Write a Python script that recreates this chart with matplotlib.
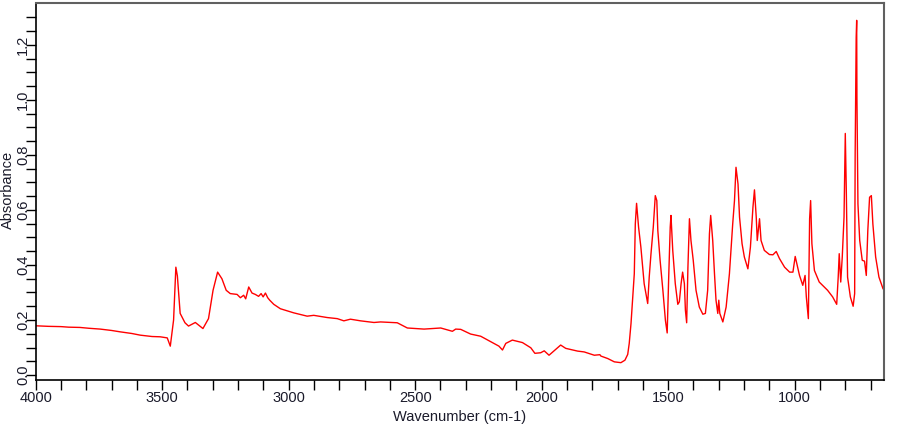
import matplotlib
matplotlib.use("Agg")
import matplotlib.pyplot as plt
import numpy as np

plt.rcParams['font.family'] = ['Liberation Sans', 'DejaVu Sans']

wavenumber = [4000, 3950, 3900, 3870, 3825, 3790, 3745, 3700, 3666, 3620, 3587, 3540, 3508, 3480,
              3468, 3455, 3446, 3440, 3429, 3410, 3396, 3369, 3339, 3317, 3299, 3281, 3264, 3247,
              3231, 3204, 3191, 3178, 3170, 3158, 3145, 3132, 3119, 3109, 3101, 3092, 3083, 3075,
              3059, 3033, 2980, 2927, 2901, 2848, 2808, 2782, 2756, 2716, 2663, 2637, 2571, 2531,
              2465, 2399, 2353, 2340, 2320, 2281, 2241, 2201, 2169, 2155, 2142, 2116, 2076, 2043,
              2027, 2004, 1990, 1971, 1951, 1925, 1905, 1858, 1832, 1792, 1770, 1766, 1739, 1713,
              1687, 1671, 1660, 1654, 1647, 1640, 1634, 1630, 1625, 1617, 1608, 1595, 1581, 1575,
              1568, 1559, 1551, 1545, 1541, 1532, 1521, 1511, 1504, 1498, 1492, 1489, 1482, 1472,
              1462, 1456, 1449, 1443, 1436, 1432, 1427, 1422, 1416, 1410, 1401, 1390, 1377, 1363,
              1353, 1344, 1337, 1332, 1324, 1317, 1311, 1304, 1300, 1296, 1284, 1271, 1258, 1245,
              1238, 1232, 1224, 1218, 1208, 1199, 1185, 1175, 1165, 1159, 1152, 1148, 1139, 1133,
              1120, 1100, 1086, 1073, 1060, 1040, 1020, 1007, 998, 990, 981, 968, 959, 954, 946,
              941, 937, 932, 922, 903, 870, 850, 834, 828, 824, 818, 812, 805, 800, 796, 791, 780,
              769, 763, 761, 757, 755, 754, 750, 743, 733, 724, 717, 711, 704, 697, 691, 680, 667,
              651]
absorbance = [0.179, 0.177, 0.176, 0.174, 0.173, 0.170, 0.167, 0.162, 0.157, 0.151, 0.145, 0.140,
              0.139, 0.135, 0.105, 0.200, 0.392, 0.360, 0.224, 0.190, 0.178, 0.191, 0.169, 0.205,
              0.308, 0.374, 0.350, 0.308, 0.296, 0.293, 0.281, 0.290, 0.277, 0.320, 0.298, 0.293,
              0.286, 0.296, 0.284, 0.298, 0.281, 0.272, 0.257, 0.241, 0.226, 0.214, 0.217, 0.209,
              0.205, 0.197, 0.203, 0.197, 0.191, 0.193, 0.190, 0.171, 0.167, 0.171, 0.159, 0.167,
              0.166, 0.149, 0.141, 0.121, 0.105, 0.091, 0.115, 0.127, 0.118, 0.099, 0.079, 0.081,
              0.088, 0.072, 0.088, 0.109, 0.097, 0.087, 0.084, 0.072, 0.074, 0.069, 0.060, 0.048,
              0.045, 0.054, 0.075, 0.115, 0.187, 0.284, 0.368, 0.549, 0.624, 0.537, 0.465, 0.332,
              0.260, 0.356, 0.441, 0.537, 0.652, 0.634, 0.525, 0.417, 0.308, 0.199, 0.153, 0.356,
              0.537, 0.580, 0.453, 0.332, 0.257, 0.266, 0.332, 0.374, 0.332, 0.236, 0.190, 0.392,
              0.568, 0.489, 0.417, 0.308, 0.247, 0.221, 0.224, 0.308, 0.513, 0.580, 0.489, 0.368,
              0.272, 0.224, 0.272, 0.224, 0.193, 0.247, 0.368, 0.549, 0.634, 0.755, 0.694, 0.574,
              0.477, 0.429, 0.386, 0.465, 0.610, 0.673, 0.574, 0.489, 0.568, 0.489, 0.453, 0.438,
              0.437, 0.449, 0.423, 0.392, 0.374, 0.374, 0.431, 0.399, 0.362, 0.326, 0.362, 0.284,
              0.205, 0.568, 0.634, 0.477, 0.380, 0.338, 0.308, 0.284, 0.257, 0.356, 0.441, 0.338,
              0.429, 0.574, 0.878, 0.670, 0.356, 0.284, 0.250, 0.296, 0.803, 1.226, 1.289, 1.008,
              0.622, 0.489, 0.417, 0.414, 0.362, 0.525, 0.646, 0.652, 0.549, 0.429, 0.356, 0.314]

fig = plt.figure(figsize=(9, 4.25), dpi=100)
ax = fig.add_axes([35.7 / 900, 1 - 380 / 425, (884 - 35.7) / 900, (380 - 3) / 425])
ax.plot(wavenumber, absorbance, color='#ff0000', linewidth=1.0)

ax.set_xlim(4000, 647)
ax.set_ylim(-0.018, 1.352)

ax.set_xticks(np.arange(4000, 649, -100), minor=True)
ax.set_xticks([4000, 3500, 3000, 2500, 2000, 1500, 1000])
ax.set_yticks(np.arange(0, 1.31, 0.05), minor=True)
ax.set_yticks([0.0, 0.2, 0.4, 0.6, 0.8, 1.0, 1.2])
ax.set_yticklabels(['0.0', '0.2', '0.4', '0.6', '0.8', '1.0', '1.2'], rotation=90, va='center')

ax.tick_params(which='both', direction='out', length=7, width=1, color='black',
               labelsize=10.5, labelcolor='#1a1a2a')
ax.tick_params(axis='y', pad=-3)
ax.tick_params(axis='x', pad=1)

for s in ['left', 'bottom']:
    ax.spines[s].set_color('black')
    ax.spines[s].set_linewidth(1.2)
for s in ['top', 'right']:
    ax.spines[s].set_color('#606060')
    ax.spines[s].set_linewidth(1.5)

fig.text(8 / 900, 1 - 190 / 425, 'Absorbance', rotation=90, ha='center', va='center',
         fontsize=10.5, color='#1a1a2a')
fig.text(460 / 900, 1 - 417 / 425, 'Wavenumber (cm-1)', ha='center', va='center',
         fontsize=10.5, color='#1a1a2a')

fig.savefig('out.png', dpi=100)
